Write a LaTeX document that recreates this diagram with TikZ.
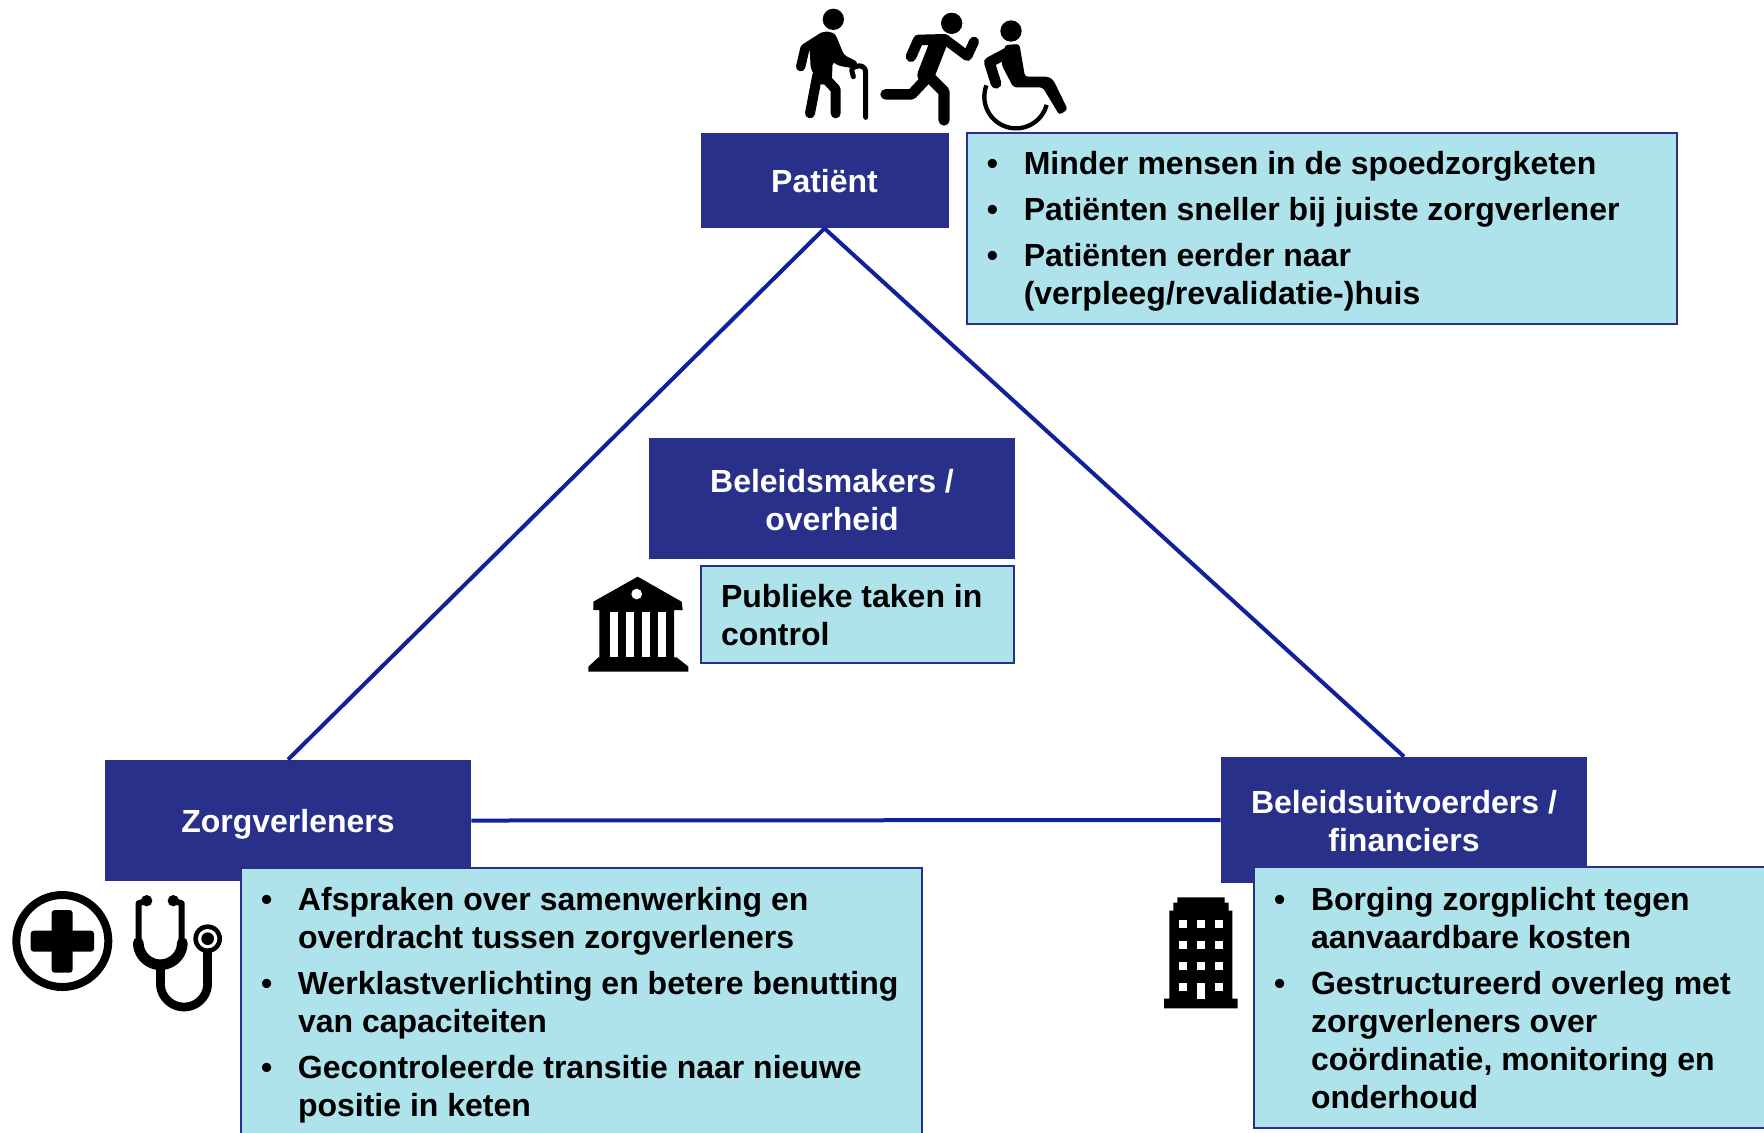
\documentclass[tikz,border=0pt]{standalone}
\usepackage{fontspec}
\setmainfont{Liberation Sans}
\definecolor{navy}{HTML}{28308A}
\definecolor{sky}{HTML}{AEE3EC}
\definecolor{link}{HTML}{12209A}
\newcommand{\itm}[1]{\setlength{\parskip}{4pt}\leavevmode\hangindent=28.5pt\hangafter=1\hbox to 28.5pt{\hspace{10pt}\textbullet\hfill}#1\par}
\tikzset{
  base/.style={font=\fontsize{16}{19}\selectfont\bfseries, inner sep=0pt, anchor=center},
  head/.style={base, fill=navy, text=white, align=center},
  info/.style={base, fill=sky, draw=navy, line width=1pt, text=black, align=flush left},
  link/.style={draw=link, line width=2pt},
  ico/.style={line width={#1*0.1667pt}, line cap=round, line join=round, draw=black, fill=none},
}
\begin{document}
\begin{tikzpicture}[x=0.5pt,y=-0.5pt]
\clip (0,0) rectangle (1764,1132);
\useasboundingbox (0,0) rectangle (1764,1132);

% connectors below boxes
\node[head, minimum width=124pt, minimum height=47.5pt] (patient) at (824.5,180.5) {\strut\rule{0pt}{17.8pt}Patiënt};
\node[head, minimum width=183pt, minimum height=60.5pt] (zorg) at (288,820.5) {\strut\rule{0pt}{17.8pt}Zorgverleners};
\node[head, minimum width=183pt, minimum height=63pt] (uitv) at (1404,820) {\rule{0pt}{13pt}Beleidsuitvoerders /\\financiers};
\node[head, minimum width=183pt, minimum height=60.5pt] (beleid) at (832,498.5) {\rule{0pt}{12.7pt}Beleidsmakers /\\overheid};
\draw[link] (patient.south) -- (zorg.north);
\draw[link] (patient.south) -- (uitv.north);
\draw[link] (zorg.east) -- (uitv.west);

\node[info, minimum height=95.5pt, text width=355pt] (ipat) at (1321.75,228.5) {%
\itm{\rule{0pt}{14pt}Minder mensen in de spoedzorgketen}%
\itm{Patiënten sneller bij juiste zorgverlener}%
\itm{Patiënten eerder naar\newline(verpleeg/revalidatie-)huis}};
\node[info, minimum height=48.5pt, text width=136.5pt, inner xsep=10pt] (ibel) at (857.5,614.5) {\rule{0pt}{12pt}Publieke taken in\newline control};
\node[info, minimum height=136pt, text width=340.5pt] (izorg) at (581.5,1004) {%
\itm{\rule{0pt}{12.4pt}Afspraken over samenwerking en\newline overdracht tussen zorgverleners}%
\itm{Werklastverlichting en betere benutting\newline van capaciteiten}%
\itm{Gecontroleerde transitie naar nieuwe\newline positie in keten}};
\node[info, minimum height=130.5pt, text width=258pt] (iuitv) at (1512,997.5) {%
\itm{\rule{0pt}{12pt}Borging zorgplicht tegen\newline aanvaardbare kosten}%
\itm{Gestructureerd overleg met\newline zorgverleners over\newline coördinatie, monitoring en\newline onderhoud}};

% patient icons
\begin{scope}[shift={(770,0)},scale=1/3]
  % old man
  \fill (190,58) circle[radius=32];
  \fill[rounded corners=1.5pt] (118,125) -- (165,93) -- (195,100) -- (222,165) -- (262,185) -- (262,207) -- (205,197) -- (188,185) -- (185,250) -- (150,255) -- (122,205) -- cycle;
  \draw[ico=28] (160,110) -- (105,145) -- (92,200);
  \draw[ico=30] (142,225) -- (120,340);
  \draw[ico=30] (160,228) -- (197,268) -- (197,340);
  \draw[ico=15] (250,230) -- (245,210) .. controls (250,195) and (285,190) .. (287,215) -- (287,352);
  % runner
  \fill (545,70) circle[radius=32];
  \draw[ico=52] (505,130) -- (468,225);
  \draw[ico=32] (525,118) -- (445,120) -- (423,170);
  \draw[ico=30] (525,118) -- (592,168) -- (612,125);
  \draw[ico=32] (470,235) -- (425,283) -- (347,283);
  \draw[ico=34] (472,225) -- (522,275) -- (522,360);
  % wheelchair
  \fill (723,93) circle[radius=32];
  \fill[rounded corners=1.5pt] (705,135) -- (748,132) -- (765,230) -- (835,230) -- (850,240) -- (893,328) -- (868,345) -- (818,262) -- (730,262) -- (695,195) -- cycle;
  \draw[ico=32] (728,150) -- (658,187) -- (678,250);
  \draw[ico=13,line cap=butt] plot[domain=15:201,samples=40] ({738+95*cos(\x)},{290+95*sin(\x)});
\end{scope}

% care icons
\begin{scope}[shift={(0,870)},scale=1/3]
  \draw[ico=24] (187,213) circle[radius=138];
  \fill[rounded corners=1.5pt] (155,120) rectangle (218,308);
  \fill[rounded corners=1.5pt] (92,182) rectangle (282,245);
  \draw[ico=18] (440,92) -- (416,100) -- (416,215);
  \draw[ico=18] (520,92) -- (545,100) -- (545,215);
  \fill (440,92) circle[radius=17];
  \fill (520,92) circle[radius=17];
  \draw[ico=32,line cap=round] plot[domain=0:180,samples=30] ({481+66*cos(\x)},{218+66*sin(\x)});
  \draw[ico=26] (481,290) -- (481,340);
  \draw[ico=26,line cap=butt] plot[domain=0:180,samples=30] ({552+71*cos(\x)},{340+71*sin(\x)});
  \draw[ico=26] (623,340) -- (623,240);
  \fill (623,206) circle[radius=43];
  \fill[white] (623,206) circle[radius=29];
  \fill (623,206) circle[radius=19];
\end{scope}

% government icon
\begin{scope}[shift={(570,560)},scale=1/3]
  \fill (203,50) -- (335,125) -- (338,150) -- (312,150) -- (312,292) -- (320,292) -- (355,320) -- (355,335) -- (55,335) -- (55,320) -- (85,292) -- (88,292) -- (88,150) -- (70,150) -- (70,125) -- cycle;
  \fill[white] (200,102) circle[radius=16];
  \fill[white] (120,157) rectangle (145,292);
  \fill[white] (168,157) rectangle (193,292);
  \fill[white] (217,157) rectangle (241,292);
  \fill[white] (265,157) rectangle (288,292);
\end{scope}

% building icon
\begin{scope}[shift={(1150,880)},scale=1/3]
  \fill (82,52) -- (224,52) -- (224,68) -- (236,68) -- (236,92) -- (247,92) -- (247,356) -- (263,356) -- (263,385) -- (42,385) -- (42,356) -- (58,356) -- (58,92) -- (70,92) -- (70,68) -- (82,68) -- cycle;
  \foreach \wy in {120,183,246,310} \foreach \wx in {86,141,196} {
    \fill[white] (\wx,\wy) rectangle ++(24,24);
  }
  \fill[white] (141,310) rectangle (165,356);
\end{scope}
\end{tikzpicture}
\end{document}
